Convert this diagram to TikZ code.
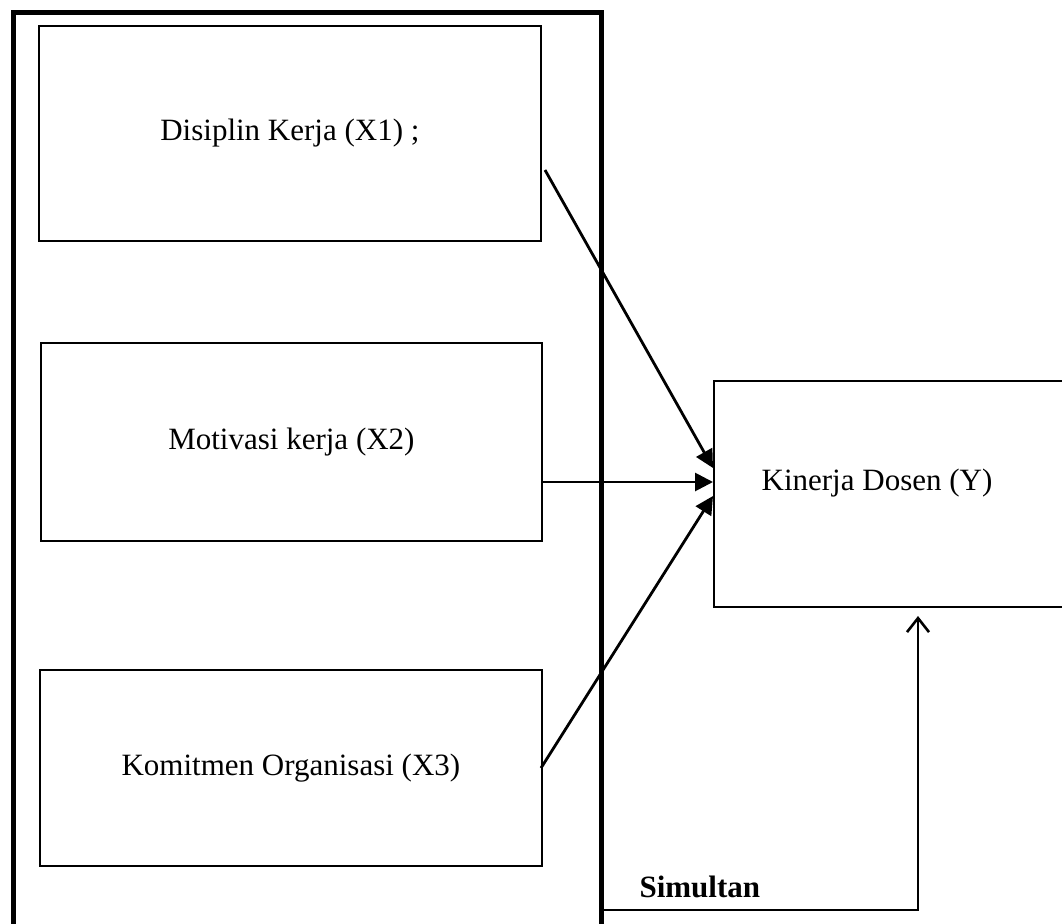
\documentclass[tikz,border=0pt]{standalone}
\usepackage{fontspec}
\setmainfont{Liberation Serif}
\usetikzlibrary{arrows.meta,calc}
\begin{document}
\begin{tikzpicture}[x=1pt,y=-1pt,
  box/.style={draw,line width=1.8pt,inner sep=0pt,anchor=north west},
  lbl/.style={font=\fontsize{31}{36}\selectfont},
  arr/.style={line width=2.8pt,-{Triangle[length=18pt,width=18pt]}},
  openarr/.style={line width=2.6pt,-{Straight Barb[length=14pt,width=22pt,line width=2.6pt]}}]
\useasboundingbox (0,0) rectangle (1062,923);
\clip (0,0) rectangle (1062,923);
\fill[white] (0,0) rectangle (1062,923);
% outer frame
\draw[line width=5pt] (13,950) -- (13,13) -- (601,13) -- (601,950);
% boxes
\node[box,minimum width=502pt,minimum height=215pt] (x1) at (38,25) {};
\node[lbl] at (x1.center) {Disiplin Kerja (X1) ;};
\node[box,minimum width=501pt,minimum height=198pt] (x2) at (40,342) {};
\node[lbl] at (x2.center) {Motivasi kerja (X2)};
\node[box,minimum width=502pt,minimum height=196pt] (x3) at (39,669) {};
\node[lbl] at (x3.center) {Komitmen Organisasi (X3)};
\node[box,minimum width=380pt,minimum height=226pt] (y) at (713,380) {};
\node[lbl] at (877,483) {Kinerja Dosen (Y)};
% arrow endpoints
\coordinate (s1) at (545,170);
\coordinate (t1) at (713,468);
\coordinate (t2) at (713,482);
\coordinate (s3) at (541,768);
\coordinate (t3) at (713,496);
\coordinate (b0) at (601,910);
\coordinate (b1) at (918,910);
\coordinate (t4) at (918,616);
\draw[arr] (s1) -- (t1);
\draw[arr] (x2.east |- t2) -- (t2);
\draw[arr] (s3) -- (t3);
\draw[openarr] (b0) -- (b1) -- (t4);
\node[font=\fontsize{31}{36}\selectfont\bfseries,anchor=west] (sim) at (636,887) {Simultan};
\end{tikzpicture}
\end{document}
